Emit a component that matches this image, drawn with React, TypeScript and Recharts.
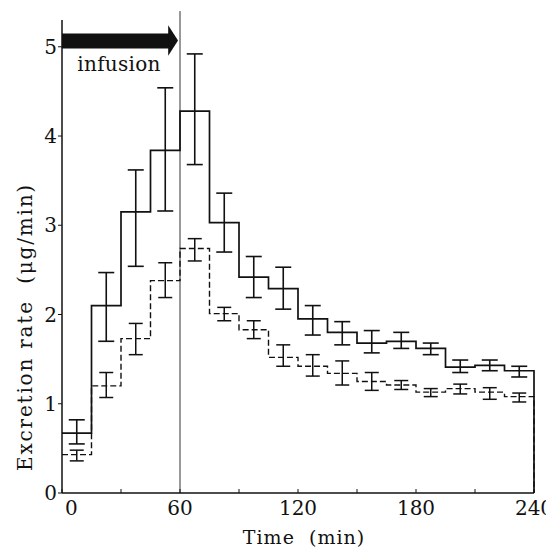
import React from "react";
import {
  ComposedChart,
  Line,
  Scatter,
  ErrorBar,
  XAxis,
  YAxis,
  ReferenceLine,
  ReferenceArea,
} from "recharts";

// collection periods (min), 15-min bins
const binStart = [0, 15, 30, 45, 60, 75, 90, 105, 120, 135, 150, 165, 180, 195, 210, 225];
const binWidth = 15;

// solid line series
const solidMean = [0.67, 2.1, 3.15, 3.84, 4.28, 3.03, 2.42, 2.29, 1.95, 1.8, 1.68, 1.7, 1.62, 1.41, 1.43, 1.37];
const solidUpper = [0.82, 2.47, 3.62, 4.54, 4.92, 3.36, 2.65, 2.53, 2.1, 1.92, 1.82, 1.8, 1.68, 1.49, 1.49, 1.42];
const solidLower = [0.55, 1.7, 2.54, 3.16, 3.68, 2.7, 2.19, 2.06, 1.77, 1.66, 1.57, 1.62, 1.55, 1.35, 1.37, 1.3];

// dashed line series
const dashedMean = [0.43, 1.2, 1.73, 2.38, 2.74, 2.01, 1.83, 1.52, 1.42, 1.34, 1.25, 1.21, 1.13, 1.17, 1.13, 1.08];
const dashedUpper = [0.48, 1.35, 1.9, 2.58, 2.85, 2.08, 1.93, 1.66, 1.55, 1.48, 1.35, 1.26, 1.17, 1.22, 1.18, 1.12];
const dashedLower = [0.36, 1.07, 1.55, 2.19, 2.6, 1.93, 1.73, 1.42, 1.31, 1.21, 1.15, 1.16, 1.08, 1.11, 1.05, 1.02];

const xTicks = [0, 30, 60, 90, 120, 150, 180, 210, 240];
const xLabels = [0, 60, 120, 180, 240];
const yTicks = [0, 1, 2, 3, 4, 5];

const ink = "#111";
const font = "DejaVu Serif, Liberation Serif, serif";
const txt = { fontFamily: font };

function stepData(mean: number[]) {
  const end = binStart[binStart.length - 1] + binWidth;
  const pts = binStart.map((x, i) => ({ x, y: mean[i] }));
  pts.push({ x: end, y: mean[mean.length - 1] });
  pts.push({ x: end, y: 0 });
  return pts;
}

function barData(mean: number[], upper: number[], lower: number[]) {
  return binStart.map((x, i) => ({
    x: x + binWidth / 2,
    y: mean[i],
    err: [mean[i] - lower[i], upper[i] - mean[i]],
  }));
}

const solidSteps = stepData(solidMean);
const dashedSteps = stepData(dashedMean);
const solidBars = barData(solidMean, solidUpper, solidLower);
const dashedBars = barData(dashedMean, dashedUpper, dashedLower);

const XTick = (props: any) => {
  const { x, y, payload } = props;
  const v = payload.value;
  return (
    <g>
      <line x1={x} y1={y} x2={x} y2={y - 4} stroke={ink} strokeWidth={1} />
      {xLabels.includes(v) && (
        <text
          x={v === 0 ? x + 3 : x}
          y={y + 22}
          textAnchor={v === 0 ? "start" : "middle"}
          fill={ink}
          fontSize={20}
          fontFamily={font}
          style={txt}
        >
          {v}
        </text>
      )}
    </g>
  );
};

const YTick = (props: any) => {
  const { x, y, payload } = props;
  return (
    <text x={x} y={y + 7} textAnchor="end" fill={ink} fontSize={20} fontFamily={font} style={txt}>
      {payload.value}
    </text>
  );
};

const YTitle = () => (
  <text
    x={0}
    y={0}
    transform="translate(32 327) rotate(-90)"
    textAnchor="middle"
    fill={ink}
    fontSize={20}
    fontFamily={font}
    style={txt}
    letterSpacing={1.8}
  >
    Excretion rate{"\u00a0\u00a0"}(μg/min)
  </text>
);

const XTitle = () => (
  <text x={304} y={544} textAnchor="middle" fill={ink} fontSize={19} fontFamily={font} style={txt} letterSpacing={1}>
    Time{"\u00a0\u00a0"}(min)
  </text>
);

const InfusionText = (props: any) => {
  const { x, y, width, height } = props;
  return (
    <g>
      <text
        x={x + width / 2}
        y={y + height / 2 + 7}
        textAnchor="middle"
        fill={ink}
        fontSize={20}
        fontFamily="DejaVu Serif"
        style={{ fontFamily: "DejaVu Serif" }}
        letterSpacing={0.3}
      >
        infusion
      </text>
    </g>
  );
};

const ArrowHead = (props: any) => {
  const { x, y, width, height } = props;
  return <polygon points={`${x},${y} ${x + width},${y + height / 2} ${x},${y + height}`} fill={ink} />;
};

export default function App() {
  return (
    <div style={{ position: "absolute", left: 0, top: 0, background: "#fff" }}>
      <ComposedChart width={546} height={549} margin={{ top: 20, right: 12, bottom: 0, left: 0 }}>
        <XAxis
          type="number"
          dataKey="x"
          domain={[0, 240]}
          ticks={xTicks}
          interval={0}
          tickSize={0}
          tickMargin={0}
          tickLine={false}
          tick={<XTick />}
          height={56}
          axisLine={{ stroke: ink, strokeWidth: 1.5 }}
          label={<XTitle />}
        />
        <YAxis
          type="number"
          domain={[0, 5.3]}
          ticks={yTicks}
          width={62}
          tickSize={4}
          tickMargin={1}
          tickLine={{ stroke: ink }}
          tick={<YTick />}
          axisLine={{ stroke: ink, strokeWidth: 1.5 }}
          label={<YTitle />}
        />
        <ReferenceLine
          segment={[{ x: 60, y: 0 }, { x: 60, y: 5.4 }]}
          ifOverflow="visible"
          stroke="#333"
          strokeWidth={1}
        />
        <ReferenceArea x1={0} x2={55} y1={4.98} y2={5.15} fill={ink} fillOpacity={1} stroke="none" />
        <ReferenceArea x1={54} x2={59} y1={4.9} y2={5.24} shape={<ArrowHead />} />
        <ReferenceArea x1={0} x2={58} y1={4.65} y2={4.97} shape={<InfusionText />} />
        <Line
          data={dashedSteps}
          dataKey="y"
          type="stepAfter"
          stroke={ink}
          strokeWidth={1.4}
          strokeDasharray="6 3"
          dot={false}
          activeDot={false}
          isAnimationActive={false}
        />
        <Line
          data={solidSteps}
          dataKey="y"
          type="stepAfter"
          stroke={ink}
          strokeWidth={1.7}
          dot={false}
          activeDot={false}
          isAnimationActive={false}
        />
        <Scatter data={solidBars} dataKey="y" shape={() => <g />} isAnimationActive={false}>
          <ErrorBar dataKey="err" direction="y" width={8} stroke={ink} strokeWidth={1.6} />
        </Scatter>
        <Scatter data={dashedBars} dataKey="y" shape={() => <g />} isAnimationActive={false}>
          <ErrorBar dataKey="err" direction="y" width={7} stroke={ink} strokeWidth={1.5} />
        </Scatter>
      </ComposedChart>
    </div>
  );
}
